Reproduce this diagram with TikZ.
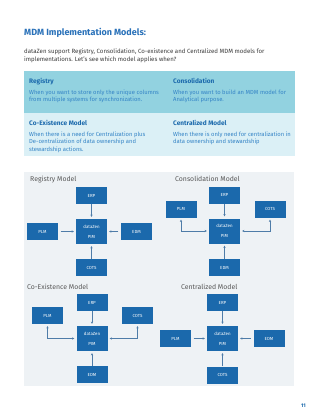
\documentclass[tikz,border=0pt]{standalone}
\usepackage{fontspec}
\setmainfont{Fira Sans}
\usepackage{tikz}
\usepackage{xcolor}
\usetikzlibrary{positioning,arrows.meta}

\definecolor{mdmblue}{RGB}{27,105,172}
\definecolor{titleblue}{RGB}{40,112,184}
\definecolor{rowone}{RGB}{146,210,224}
\definecolor{rowtwo}{RGB}{219,240,246}
\definecolor{descblue}{RGB}{52,132,198}
\definecolor{panelgray}{RGB}{238,242,245}
\definecolor{linkblue}{RGB}{78,124,168}
\definecolor{bodygray}{RGB}{58,58,58}
\definecolor{labelgray}{RGB}{88,88,88}

\begin{document}
\begin{tikzpicture}[x=1pt,y=-1pt,
  >={Stealth[length=2.2pt,width=2.2pt]},
  sysbox/.style={fill=mdmblue,text=white,minimum width=31pt,minimum height=17pt,
                 inner sep=0pt,font=\fontsize{4.4}{5}\selectfont},
  hubbox/.style={sysbox,minimum height=25pt,align=center,
                 font=\fontsize{4.4}{10}\selectfont},
  link/.style={draw=linkblue,line width=0.6pt,->,shorten >=2pt},
  twoway/.style={link,<->,shorten <=2pt},
  side/.style={shorten <=2.5pt},
  modeltitle/.style={anchor=base west,text=labelgray,font=\fontsize{6.9}{8}\selectfont},
  cellhead/.style={anchor=base west,text=mdmblue,font=\bfseries\fontsize{6.5}{8}\selectfont},
  celltext/.style={anchor=base west,align=left,inner sep=0pt,text=descblue,
                   font=\fontsize{5.85}{7.4}\selectfont}]

  \useasboundingbox (0,0) rectangle (320,414);

  % ---------- heading ----------
  \node[anchor=base west,inner sep=0pt,text=titleblue,font=\bfseries\fontsize{9}{11}\selectfont]
    (title) at (24,36) {MDM Implementation Models:};
  % (multi-line nodes: base = last line)
  \node[anchor=base west,align=left,inner sep=0pt,text=bodygray,font=\fontsize{6.1}{8}\selectfont]
    (intro) at (24,62) {dataZen support Registry, Consolidation, Co-existence and Centralized MDM models for\\
    implementations. Let's see which model applies when?};

  % ---------- table ----------
  \fill[rowone] (24,71) rectangle (295,113);
  \fill[rowtwo] (24,113) rectangle (295,156);
  \node[cellhead,inner sep=0pt] (hreg) at (29,84) {Registry};
  \node[celltext] (treg) at (29,102) {When you want to store only the unique columns\\
    from multiple systems for synchronization.};
  \node[cellhead,inner sep=0pt] (hcon) at (173,84) {Consolidation};
  \node[celltext] (tcon) at (173,102) {When you want to build an MDM model for\\
    Analytical purpose.};
  \node[cellhead,inner sep=0pt] (hcoe) at (29,125.5) {Co-Existence Model};
  \node[celltext] (tcoe) at (29,151) {When there is a need for Centralization plus\\
    De-centralization of data ownership and\\ stewardship actions.};
  \node[cellhead,inner sep=0pt] (hcen) at (173,125.5) {Centralized Model};
  \node[celltext] (tcen) at (173,143.5) {When there is only need for centralization in\\
    data ownership and stewardship};

  % ---------- diagrams ----------
  \fill[panelgray] (24,172) rectangle (294,386);

  % registry: all systems feed the hub
  \node[modeltitle,inner sep=0pt] (lreg) at (30,181.5) {Registry Model};
  \begin{scope}[shift={(91.5,231.5)}]
    \node[hubbox] (regPIM) at (0,0) {dataZen\\PIM};
    \node[sysbox] (regERP) at (0,-36) {ERP};
    \node[sysbox] (regPLM) at (-49,0) {PLM};
    \node[sysbox] (regEDM) at (45,0) {EDM};
    \node[sysbox] (regCOTS) at (0,36) {COTS};
    \draw[link] (regERP) -- (regPIM);
    \draw[link] (regCOTS) -- (regPIM);
    \draw[link,side] (regPLM) -- (regPIM);
    \draw[link,side] (regEDM) -- (regPIM);
  \end{scope}

  % consolidation
  \node[modeltitle,inner sep=0pt] (lcon) at (175,181.5) {Consolidation Model};
  \begin{scope}[shift={(224.5,231)}]
    \node[hubbox] (conPIM) at (0,0) {dataZen\\PIM};
    \node[sysbox] (conERP) at (0,-36) {ERP};
    \node[sysbox] (conPLM) at (-43.5,-22) {PLM};
    \node[sysbox] (conCOTS) at (45.5,-22) {COTS};
    \node[sysbox] (conEDM) at (0,36.5) {EDM};
    \draw[link] (conERP) -- (conPIM);
    \draw[link] (conEDM) -- (conPIM);
    \draw[twoway] (conPLM.south) |- (conPIM.west);
    \draw[twoway] (conCOTS.south) |- (conPIM.east);
  \end{scope}

  % co-existence
  \node[modeltitle,inner sep=0pt] (lcoe) at (27,289) {Co-Existence Model};
  \begin{scope}[shift={(92,338.5)}]
    \node[hubbox] (coePIM) at (0,0) {dataZen\\PIM};
    \node[sysbox] (coeERP) at (0,-36) {ERP};
    \node[sysbox] (coePLM) at (-44.5,-23) {PLM};
    \node[sysbox] (coeCOTS) at (45.5,-23) {COTS};
    \node[sysbox] (coeEDM) at (0,36) {EDM};
    \draw[link] (coeERP) -- (coePIM);
    \draw[link] (coeEDM) -- (coePIM);
    \draw[twoway] (coePLM.south) |- (coePIM.west);
    \draw[twoway] (coeCOTS.south) |- (coePIM.east);
  \end{scope}

  % centralized
  \node[modeltitle,inner sep=0pt] (lcen) at (181,289) {Centralized Model};
  \begin{scope}[shift={(222.5,338.5)}]
    \node[hubbox] (cenPIM) at (0,0) {dataZen\\PIM};
    \node[sysbox] (cenERP) at (0,-36) {ERP};
    \node[sysbox] (cenPLM) at (-47,0) {PLM};
    \node[sysbox] (cenEDM) at (46.5,0) {EDM};
    \node[sysbox] (cenCOTS) at (0,36.5) {COTS};
    \draw[link] (cenERP) -- (cenPIM);
    \draw[link] (cenCOTS) -- (cenPIM);
    \draw[link,side] (cenPLM) -- (cenPIM);
    \draw[link,side] (cenEDM) -- (cenPIM);
  \end{scope}

  % page number
  \node[anchor=base east,inner sep=0pt,text=mdmblue,font=\bfseries\fontsize{5.2}{6}\selectfont]
    (pageno) at (306,407) {11};

\end{tikzpicture}
\end{document}
